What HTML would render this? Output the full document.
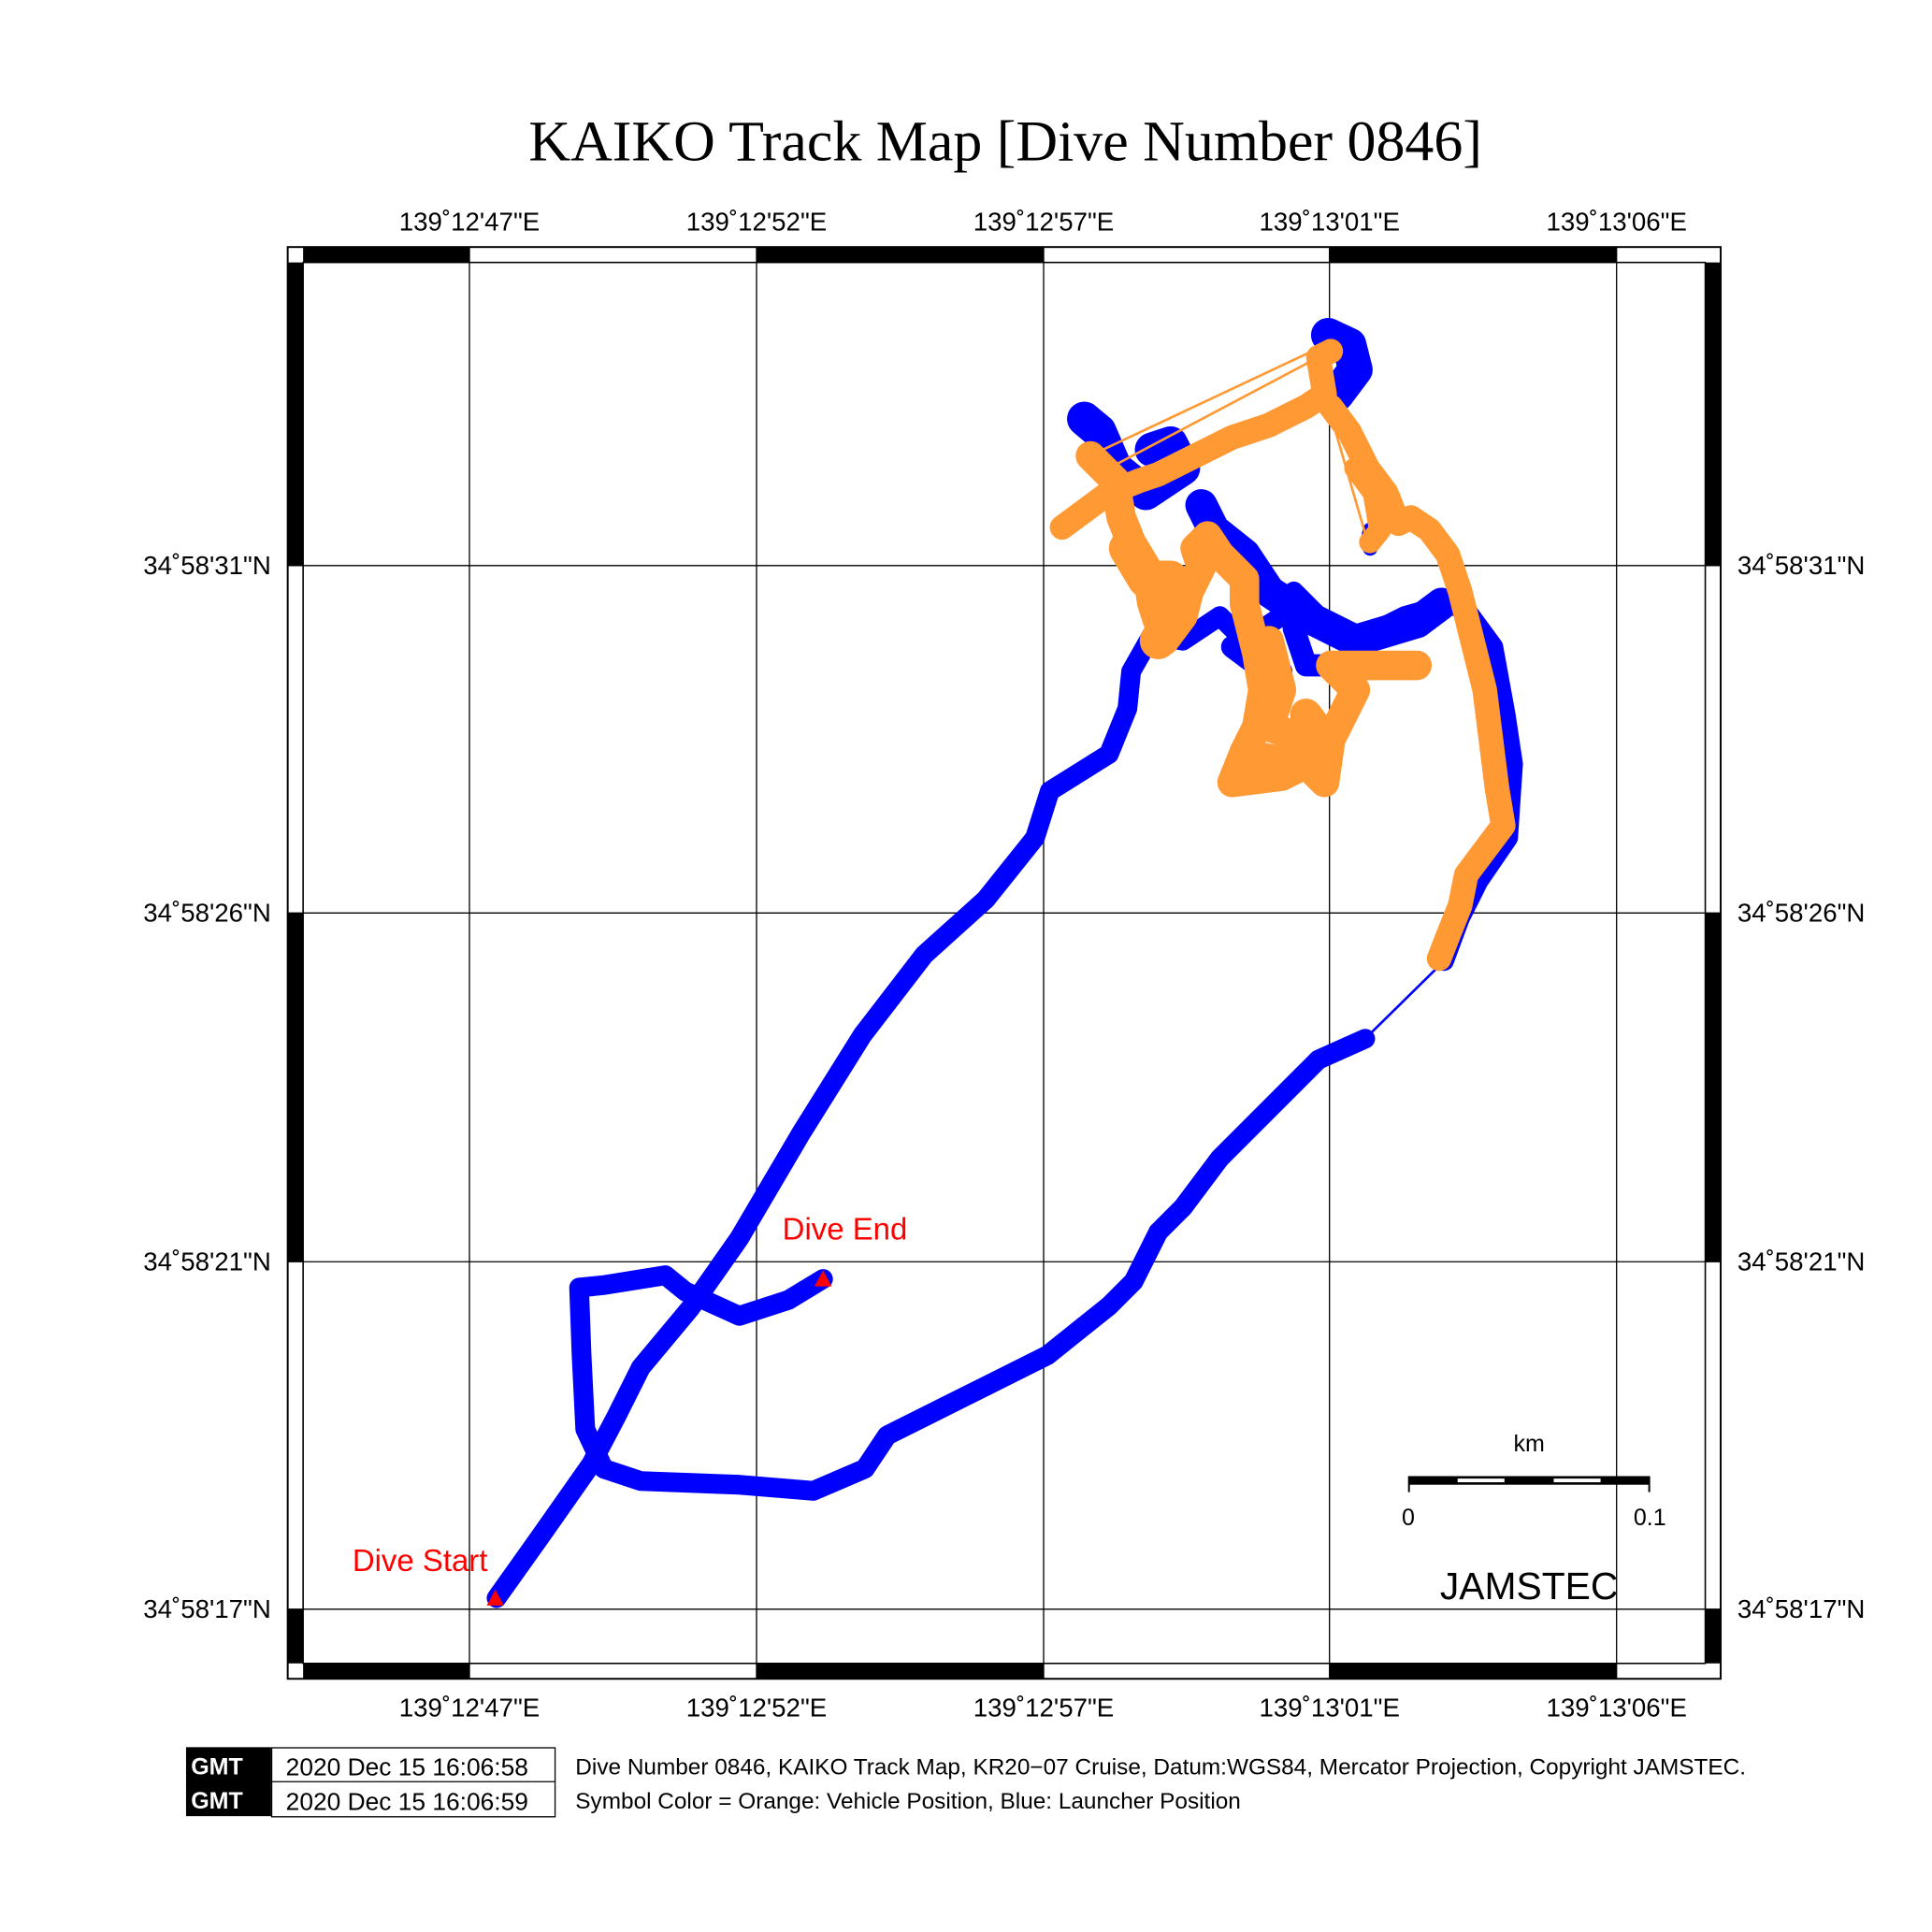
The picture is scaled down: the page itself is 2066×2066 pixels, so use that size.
<!DOCTYPE html>
<html><head><meta charset="utf-8"><style>html,body{margin:0;padding:0;background:#fff}svg{display:block}</style></head><body>
<svg xmlns="http://www.w3.org/2000/svg" width="2066" height="2066" viewBox="0 0 1568 1568">
<rect width="1568" height="1568" fill="#fff"/>
<text x="816" y="130" font-family="Liberation Serif, serif" font-size="47" text-anchor="middle">KAIKO Track Map [Dive Number 0846]</text>
<g font-family="Liberation Sans, sans-serif" font-size="21" text-anchor="middle">
<text x="381" y="187">139˚12'47"E</text><text x="614" y="187">139˚12'52"E</text><text x="847" y="187">139˚12'57"E</text><text x="1079" y="187">139˚13'01"E</text><text x="1312" y="187">139˚13'06"E</text>
<text x="381" y="1393">139˚12'47"E</text><text x="614" y="1393">139˚12'52"E</text><text x="847" y="1393">139˚12'57"E</text><text x="1079" y="1393">139˚13'01"E</text><text x="1312" y="1393">139˚13'06"E</text>
</g>
<g font-family="Liberation Sans, sans-serif" font-size="21" text-anchor="end">
<text x="220" y="466">34˚58'31"N</text><text x="220" y="748">34˚58'26"N</text><text x="220" y="1031">34˚58'21"N</text><text x="220" y="1313">34˚58'17"N</text></g>
<g font-family="Liberation Sans, sans-serif" font-size="21">
<text x="1410" y="466">34˚58'31"N</text><text x="1410" y="748">34˚58'26"N</text><text x="1410" y="1031">34˚58'21"N</text><text x="1410" y="1313">34˚58'17"N</text></g>
<rect x="233.5" y="200.5" width="1163" height="1162" fill="#fff" stroke="#000" stroke-width="1.5"/>
<g fill="#000">
<rect x="246" y="200" width="135" height="13"/><rect x="614" y="200" width="233" height="13"/><rect x="1079" y="200" width="233" height="13"/>
<rect x="246" y="1350" width="135" height="13"/><rect x="614" y="1350" width="233" height="13"/><rect x="1079" y="1350" width="233" height="13"/>
<rect x="233" y="213" width="13" height="246"/><rect x="233" y="741" width="13" height="283"/><rect x="233" y="1306" width="13" height="44"/>
<rect x="1384" y="213" width="13" height="246"/><rect x="1384" y="741" width="13" height="283"/><rect x="1384" y="1306" width="13" height="44"/>
</g>
<rect x="246" y="213" width="1138" height="1137" fill="none" stroke="#000" stroke-width="1.2"/>
<g stroke="#000" stroke-width="1">
<line x1="381" y1="200" x2="381" y2="1363"/><line x1="614" y1="200" x2="614" y2="1363"/><line x1="847" y1="200" x2="847" y2="1363"/><line x1="1079" y1="200" x2="1079" y2="1363"/><line x1="1312" y1="200" x2="1312" y2="1363"/>
<line x1="233" y1="459" x2="1397" y2="459"/><line x1="233" y1="741" x2="1397" y2="741"/><line x1="233" y1="1024" x2="1397" y2="1024"/><line x1="233" y1="1306" x2="1397" y2="1306"/>
</g>
<g fill="none" stroke="#0000ff" stroke-linejoin="round" stroke-linecap="round">
<polyline stroke-width="16" points="403,1297 440,1245 480,1188 500,1150 520,1110 560,1062 600,1005 650,920 700,840 750,775 800,730 840,680 852,642 900,612 915,575 918,545 935,515 960,520 990,500 1010,520 1040,500 1050,480 1080,510 1100,520 1140,500 1175,490 1190,495 1212,525 1222,580 1228,620 1224,680 1200,715 1185,745 1172,780"/>
<polyline stroke-width="2" points="1172,780 1108,843"/>
<polyline stroke-width="16" points="1108,843 1070,860 1040,890 990,940 960,980 940,1000 920,1040 900,1060 850,1100 800,1125 780,1135 720,1165 702,1192 660,1210 600,1205 520,1202 490,1192 475,1160 472,1100 470,1045 490,1043 540,1035 556,1048 600,1068 640,1055 668,1038"/>
<polyline stroke-width="28" points="880,340 892,350 905,380 930,400 960,380 950,360 935,365"/>
<polyline stroke-width="28" points="1078,272 1095,280 1100,300 1085,320"/>
<polyline stroke-width="26" points="975,410 985,430 1010,450 1030,480 1060,500 1100,520 1150,505 1170,490"/>
<polyline stroke-width="18" points="1050,510 1060,540 1100,540 1150,540"/>
<polyline stroke-width="18" points="1000,525 1020,540 1040,545"/>
<polyline stroke-width="12" points="1112,430 1110,440 1112,445"/>
</g>
<g fill="none" stroke="#ff9933" stroke-linejoin="round" stroke-linecap="round">
<polyline stroke-width="2" points="895,365 1065,285 1110,440"/>
<polyline stroke-width="2" points="900,380 1070,290"/>
<polyline stroke-width="20" points="862,428 900,400 925,390 940,385 970,370 1000,355 1030,345 1060,330 1075,320 1070,290 1080,285"/>
<polyline stroke-width="24" points="885,370 905,390 910,420 918,440 930,460 935,490 945,520 960,500 965,480 975,460 970,445 980,435 990,450 1010,470 1010,490 1015,510 1020,530 1025,560 1020,590 1010,610 1000,635 1040,630 1060,620 1075,635 1080,600 1090,580 1100,560 1080,540 1110,540 1150,540"/>
<polyline stroke-width="30" points="915,445 930,470 950,470 955,500 940,520"/>
<polyline stroke-width="20" points="1080,330 1095,350 1110,380 1125,400 1135,425 1145,420 1160,430 1175,450 1185,480 1195,520 1205,560 1210,600 1215,640 1220,670 1205,690 1190,710 1185,735 1175,760 1168,778"/>
<polyline stroke-width="18" points="1100,380 1115,400 1120,430 1112,440"/>
<polyline stroke-width="24" points="1030,520 1040,560 1030,590 1060,600"/>
<polyline stroke-width="26" points="1060,580 1075,600 1050,620 1020,615"/>
</g>
<polygon points="402,1290 395,1303 409,1303" fill="#ff0000"/>
<polygon points="668,1031 661,1044 675,1044" fill="#ff0000"/>
<g font-family="Liberation Sans, sans-serif" font-size="25" fill="#ff0000">
<text x="286" y="1275">Dive Start</text><text x="635" y="1006">Dive End</text></g>
<text x="1241" y="1178" font-family="Liberation Sans, sans-serif" font-size="19" text-anchor="middle">km</text>
<rect x="1143" y="1198" width="196" height="7" fill="#000"/>
<rect x="1183" y="1200" width="38" height="3" fill="#fff"/><rect x="1261" y="1200" width="38" height="3" fill="#fff"/>
<g stroke="#000" stroke-width="1.5"><line x1="1143.5" y1="1198" x2="1143.5" y2="1211"/><line x1="1338.5" y1="1198" x2="1338.5" y2="1211"/></g>
<g font-family="Liberation Sans, sans-serif" font-size="19" text-anchor="middle"><text x="1143" y="1238">0</text><text x="1339" y="1238">0.1</text></g>
<text x="1241" y="1298" font-family="Liberation Sans, sans-serif" font-size="31" text-anchor="middle">JAMSTEC</text>
<rect x="151" y="1418" width="69" height="56" fill="#000"/>
<rect x="220.5" y="1418.5" width="230" height="56" fill="#fff" stroke="#000" stroke-width="1"/>
<line x1="220" y1="1446" x2="451" y2="1446" stroke="#000"/>
<g font-family="Liberation Sans, sans-serif" font-size="19" fill="#fff" font-weight="bold"><text x="155" y="1440">GMT</text><text x="155" y="1468">GMT</text></g>
<g font-family="Liberation Sans, sans-serif" font-size="20"><text x="232" y="1441">2020 Dec 15 16:06:58</text><text x="232" y="1469">2020 Dec 15 16:06:59</text></g>
<g font-family="Liberation Sans, sans-serif" font-size="18"><text x="467" y="1440" textLength="950" lengthAdjust="spacingAndGlyphs">Dive Number 0846, KAIKO Track Map, KR20−07 Cruise, Datum:WGS84, Mercator Projection, Copyright JAMSTEC.</text><text x="467" y="1468" textLength="540" lengthAdjust="spacingAndGlyphs">Symbol Color = Orange: Vehicle Position, Blue: Launcher Position</text></g>
</svg>
</body></html>
